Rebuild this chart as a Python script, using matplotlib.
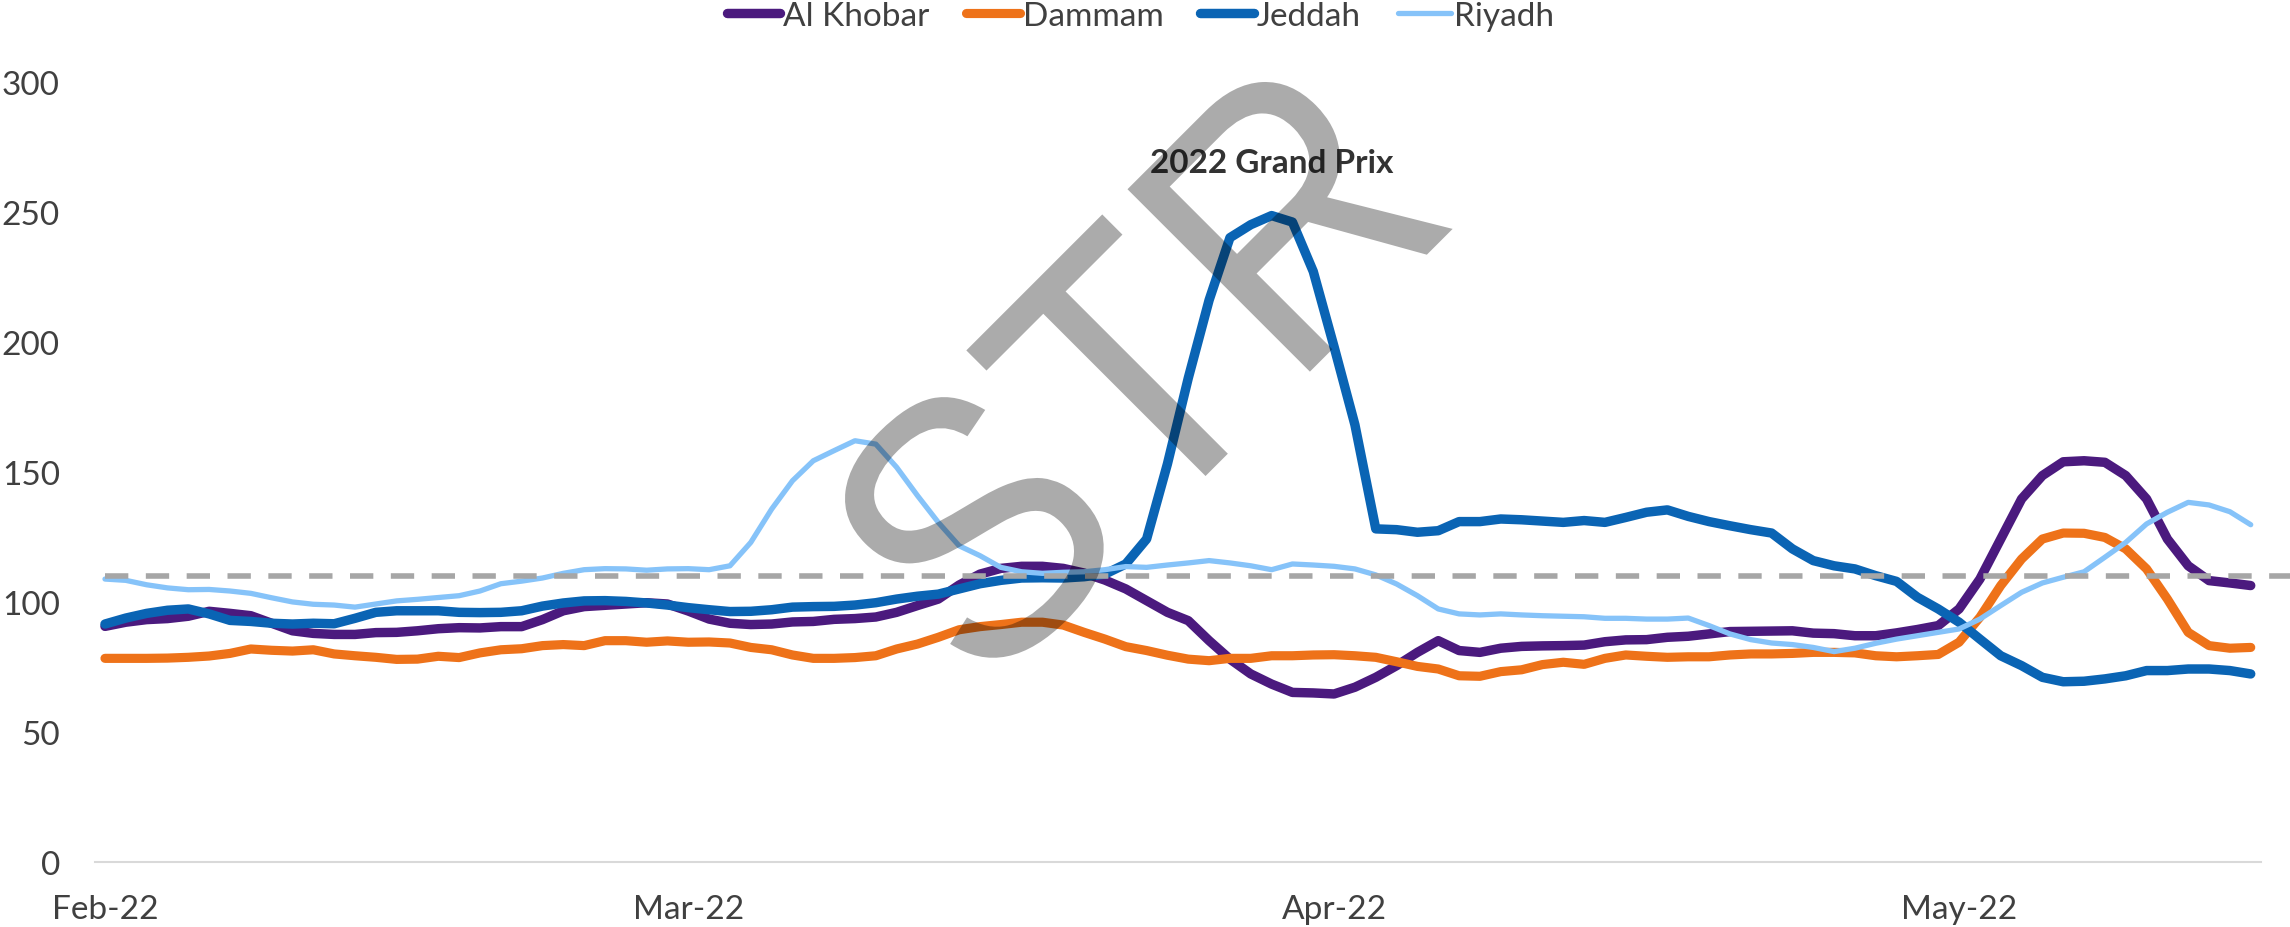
import pandas as pd
import matplotlib
matplotlib.use('Agg')
import matplotlib.pyplot as plt
from matplotlib.textpath import TextPath
from matplotlib.patches import PathPatch
from matplotlib.font_manager import FontProperties
from matplotlib.transforms import Affine2D

plt.rcParams['font.family'] = ['Lato', 'DejaVu Sans']

# daily series, 1 Feb - 15 May 2022
dates = pd.date_range('2022-02-01', '2022-05-15', freq='D')

al_khobar = [
    90.5, 92.1, 93.1, 93.5, 94.4, 96.3, 95.5, 94.6, 91.7, 88.8,
    87.8, 87.4, 87.4, 88.1, 88.2, 88.8, 89.6, 90.0, 89.9, 90.4,
    90.4, 93.1, 96.5, 98.1, 98.6, 99.1, 99.6, 99.1, 96.4, 93.3,
    91.7, 91.2, 91.4, 92.2, 92.4, 93.2, 93.5, 94.1, 95.9, 98.5,
    101.0, 106.4, 110.6, 112.8, 113.6, 113.6, 112.8, 111.0, 108.3, 104.9,
    100.4, 95.9, 92.7, 85.0, 77.9, 72.2, 68.3, 65.1, 64.9, 64.5,
    67.1, 70.9, 75.4, 80.5, 85.0, 81.2, 80.5, 82.1, 82.8, 83.0,
    83.1, 83.3, 84.6, 85.3, 85.4, 86.3, 86.7, 87.6, 88.5, 88.6,
    88.7, 88.8, 87.9, 87.7, 86.9, 86.9, 88.0, 89.3, 90.8, 97.2,
    108.7, 124.1, 139.5, 148.5, 153.8, 154.2, 153.6, 148.5, 139.5, 124.1,
    113.8, 108.1, 107.2, 106.2,
]
dammam = [
    78.2, 78.2, 78.2, 78.3, 78.6, 79.1, 80.1, 81.8, 81.3, 81.0,
    81.5, 79.9, 79.2, 78.6, 77.8, 77.9, 79.0, 78.5, 80.3, 81.5,
    81.9, 83.1, 83.5, 83.1, 85.0, 85.0, 84.4, 84.9, 84.4, 84.5,
    84.1, 82.4, 81.5, 79.5, 78.2, 78.2, 78.5, 79.2, 81.8, 83.7,
    86.3, 89.2, 90.4, 91.2, 92.1, 92.1, 91.0, 88.2, 85.6, 82.7,
    81.2, 79.4, 77.9, 77.3, 78.2, 78.2, 79.2, 79.2, 79.5, 79.6,
    79.2, 78.6, 76.9, 75.1, 74.1, 71.5, 71.3, 73.1, 73.8, 75.8,
    76.7, 75.9, 78.2, 79.5, 79.0, 78.6, 78.8, 78.8, 79.5, 79.9,
    79.9, 80.1, 80.5, 80.5, 80.3, 79.2, 78.8, 79.2, 79.7, 84.4,
    94.0, 106.2, 116.4, 124.1, 126.4, 126.3, 124.7, 120.3, 112.6, 101.0,
    88.2, 83.1, 82.1, 82.4,
]
jeddah = [
    91.4, 93.7, 95.5, 96.7, 97.2, 95.3, 92.8, 92.4, 91.7, 91.4,
    91.7, 91.5, 93.6, 95.9, 96.5, 96.5, 96.5, 95.9, 95.8, 95.9,
    96.5, 98.3, 99.5, 100.3, 100.4, 100.1, 99.5, 98.7, 97.7, 96.9,
    96.2, 96.3, 96.9, 97.9, 98.1, 98.2, 98.7, 99.6, 101.0, 102.1,
    102.9, 104.9, 106.9, 108.2, 109.1, 109.2, 109.1, 109.6, 110.6, 114.5,
    124.1, 153.0, 186.0, 216.0, 240.0, 245.0, 248.5, 246.0, 227.0, 198.0,
    168.0, 128.0, 127.7, 126.7, 127.3, 130.8, 130.8, 131.8, 131.5, 131.0,
    130.5, 131.2, 130.5, 132.4, 134.4, 135.3, 132.8, 130.8, 129.2, 127.7,
    126.4, 120.3, 115.8, 113.8, 112.6, 110.0, 107.8, 101.7, 97.2, 92.1,
    85.6, 79.2, 75.4, 70.9, 69.2, 69.4, 70.3, 71.5, 73.5, 73.5,
    74.1, 74.1, 73.5, 72.2,
]
riyadh = [
    108.7, 108.2, 106.5, 105.3, 104.6, 104.7, 104.1, 103.2, 101.5, 99.9,
    99.0, 98.7, 97.9, 99.1, 100.3, 100.9, 101.6, 102.3, 104.1, 106.9,
    107.9, 109.1, 110.9, 112.3, 112.7, 112.6, 112.1, 112.6, 112.7, 112.3,
    113.8, 122.8, 135.6, 146.5, 154.2, 158.1, 161.9, 160.6, 151.7, 140.8,
    130.5, 121.5, 117.7, 113.2, 111.5, 110.9, 111.3, 111.5, 112.3, 113.5,
    113.2, 114.1, 114.9, 115.8, 114.9, 113.8, 112.3, 114.5, 114.1, 113.6,
    112.6, 110.3, 106.8, 102.3, 97.2, 95.3, 94.9, 95.3, 94.9, 94.6,
    94.4, 94.2, 93.6, 93.6, 93.3, 93.3, 93.7, 90.8, 87.6, 85.4,
    84.1, 83.5, 82.4, 80.8, 82.1, 84.0, 85.6, 86.9, 88.2, 89.5,
    93.3, 98.5, 103.6, 107.2, 109.4, 111.5, 117.1, 122.8, 129.9, 134.4,
    138.2, 137.2, 134.6, 129.6,
]
benchmark = 110

series = [
    ('Al Khobar', al_khobar, '#4B1A7E', 6.8),
    ('Dammam', dammam, '#EE7219', 6.6),
    ('Jeddah', jeddah, '#0A64B4', 6.8),
    ('Riyadh', riyadh, '#86C3F9', 3.8),
]
month_ticks = pd.to_datetime(['2022-02-01', '2022-03-01', '2022-04-01', '2022-05-01'])
month_labels = ['Feb-22', 'Mar-22', 'Apr-22', 'May-22']

text_col = '#404040'

fig = plt.figure(figsize=(22.9, 9.28), dpi=100)
ax = fig.add_axes([0.0413, 0.0704, 0.9461, 0.8405])

for name, vals, col, lw in series:
    ax.plot(dates, vals, color=col, lw=lw, label=name,
            solid_capstyle='round', solid_joinstyle='round')

half = pd.Timedelta(hours=12)
ax.plot([dates[0], dates[-1] + pd.Timedelta(days=1.9)], [benchmark, benchmark],
        color='#A6A6A6', lw=4, linestyle=(0, (4.2, 3.15)), dash_capstyle='butt',
        clip_on=False, zorder=5)

ax.set_xlim(dates[0] - half, dates[-1] + half)
ax.set_ylim(0, 300)
ax.set_yticks(range(0, 301, 50))
ax.set_xticks(month_ticks)
ax.set_xticklabels(month_labels)
ax.tick_params(axis='both', length=0, labelsize=24, labelcolor=text_col)
ax.tick_params(axis='y', pad=25)
ax.tick_params(axis='x', pad=23)

for s in ['left', 'top', 'right']:
    ax.spines[s].set_visible(False)
ax.spines['bottom'].set_color('#D9D9D9')
ax.spines['bottom'].set_linewidth(1.5)

ax.text(pd.Timestamp('2022-03-29'), 269, '2022 Grand Prix', ha='center', va='center',
        fontsize=24, fontweight='bold', color='#333333')

fig.legend(loc='center', bbox_to_anchor=(0.498, 1 - 17 / 928), ncol=4, frameon=False,
           fontsize=24, handlelength=1.6, handletextpad=0.1, columnspacing=1.1,
           labelcolor=text_col)

# watermark, a bit taller than wide, drawn in pixel space on top of everything
tp = TextPath((0, 0), 'STR', size=1, prop=FontProperties(family='Liberation Sans'))
bb = tp.get_extents()
wm = (Affine2D()
      .translate(-(bb.x0 + bb.x1) / 2, -(bb.y0 + bb.y1) / 2)
      .scale(340, 375)
      .rotate_deg(45)
      .translate(1132, 928 - 368))
fig.add_artist(PathPatch(tp, transform=wm, facecolor='black', edgecolor='none',
                         alpha=0.33, zorder=10))

fig.savefig('out.png', dpi=100)
